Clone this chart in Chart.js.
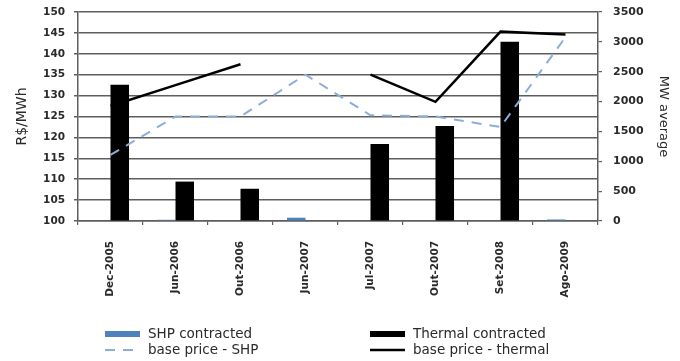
<!DOCTYPE html>
<html>
<head>
<meta charset="utf-8">
<script src="https://cdn.jsdelivr.net/npm/chart.js@4/dist/chart.umd.min.js"></script>
<style>
  html, body { margin: 0; padding: 0; background: #ffffff; }
  #wrap { position: relative; width: 680px; height: 361px; }
</style>
</head>
<body>
<div id="wrap"><canvas id="c" width="680" height="361"></canvas></div>
<script>
// Auction dates
const categories = ['Dec-2005', 'Jun-2006', 'Out-2006', 'Jun-2007', 'Jul-2007', 'Out-2007', 'Set-2008', 'Ago-2009'];

// Contracted energy, MW average (right axis)
const shpContracted = [0, 20, 0, 55, 0, 0, 0, 25];
const thermalContracted = [2280, 660, 540, 0, 1290, 1590, 3000, 0];

// Base prices, R$/MWh (left axis)
const basePriceShp = [115.8, 125, 125, 135, 125.3, 125, 122.5, 144];
const basePriceThermal = [127.5, 132.5, 137.5, null, 135, 128.5, 145.3, 144.6];

// Axis ranges and tick steps
const priceRange = [100, 150, 5];
const energyRange = [0, 3500, 500];

const seriesNames = ['SHP contracted', 'Thermal contracted', 'base price - SHP', 'base price - thermal'];

const FONT = '"DejaVu Sans", sans-serif';
const GRID = '#5e5e5e';
const TEXT = '#2a2a2a';
const SHP_BAR = '#4f81bd';
const SHP_LINE = '#8aaed8';

// Two-column key drawn beneath the plot
const bottomKey = {
  id: 'bottomKey',
  afterDraw(chart) {
    const ctx = chart.ctx;
    const cols = [105, 370];
    const rows = [334, 350];
    const slots = [[0, 0], [1, 0], [0, 1], [1, 1]];
    ctx.save();
    ctx.font = '13.5px ' + FONT;
    ctx.textBaseline = 'middle';
    ctx.textAlign = 'left';
    chart.data.datasets.forEach((ds, i) => {
      const x = cols[slots[i][0]];
      const y = rows[slots[i][1]];
      if (ds.type === 'bar') {
        ctx.fillStyle = ds.backgroundColor;
        ctx.fillRect(x, y - 3, 35, 6);
      } else {
        ctx.strokeStyle = ds.borderColor;
        ctx.lineWidth = ds.borderWidth;
        ctx.setLineDash(ds.borderDash || []);
        ctx.beginPath();
        ctx.moveTo(x, y);
        ctx.lineTo(x + 35, y);
        ctx.stroke();
        ctx.setLineDash([]);
      }
      ctx.fillStyle = TEXT;
      ctx.fillText(ds.label, x + 43, y);
    });
    ctx.restore();
  }
};

// Pin a vertical axis to a fixed width without extra label padding
const fixWidth = (w) => (s) => { s.width = w; s.paddingTop = 0; s.paddingBottom = 0; };

new Chart(document.getElementById('c'), {
  data: {
    labels: categories,
    datasets: [
      {
        type: 'bar', label: seriesNames[0], data: shpContracted, yAxisID: 'y1',
        backgroundColor: SHP_BAR, order: 2,
        categoryPercentage: 0.57, barPercentage: 1.0
      },
      {
        type: 'bar', label: seriesNames[1], data: thermalContracted, yAxisID: 'y1',
        backgroundColor: '#000000', order: 2,
        categoryPercentage: 0.57, barPercentage: 1.0
      },
      {
        type: 'line', label: seriesNames[2], data: basePriceShp, yAxisID: 'y',
        borderColor: SHP_LINE, borderWidth: 2, borderDash: [10, 8],
        pointRadius: 0, tension: 0, fill: false, order: 1
      },
      {
        type: 'line', label: seriesNames[3], data: basePriceThermal, yAxisID: 'y',
        borderColor: '#000000', borderWidth: 2.5, spanGaps: false,
        pointRadius: 0, tension: 0, fill: false, order: 1
      }
    ]
  },
  options: {
    responsive: false,
    animation: false,
    devicePixelRatio: 1,
    layout: { padding: { top: 12, left: 0, right: 0, bottom: 0 } },
    plugins: {
      legend: { display: false },
      tooltip: { enabled: false }
    },
    scales: {
      x: {
        type: 'category',
        offset: true,
        afterFit(s) { s.height = 140; s.paddingLeft = 0; s.paddingRight = 0; },
        grid: { offset: true, drawOnChartArea: false, drawTicks: true, tickLength: 4, color: GRID, lineWidth: 1.2 },
        border: { display: true, color: GRID, width: 1.5 },
        ticks: {
          maxRotation: 90, minRotation: 90, padding: 16, autoSkip: false,
          color: TEXT, font: { family: FONT, size: 10.5, weight: 'bold' }
        }
      },
      y: {
        position: 'left',
        min: priceRange[0], max: priceRange[1],
        afterFit: fixWidth(78),
        grid: { color: GRID, lineWidth: 1.5, drawTicks: true, tickLength: 4 },
        border: { display: true, color: GRID, width: 1.5 },
        ticks: {
          stepSize: priceRange[2], padding: 9,
          color: TEXT, font: { family: FONT, size: 10.5, weight: 'bold' },
          callback: (v) => String(v)
        },
        title: {
          display: true, text: 'R$/MWh', color: TEXT,
          font: { family: FONT, size: 14 }, padding: { top: 14, bottom: 0 }
        }
      },
      y1: {
        position: 'right',
        min: energyRange[0], max: energyRange[1],
        afterFit: fixWidth(82),
        grid: { drawOnChartArea: false, drawTicks: true, tickLength: 4, color: GRID, lineWidth: 1.2 },
        border: { display: true, color: GRID, width: 1.5 },
        ticks: {
          stepSize: energyRange[2], padding: 11,
          color: TEXT, font: { family: FONT, size: 11, weight: 'bold' },
          callback: (v) => String(v)
        },
        title: {
          display: true, text: 'MW average', color: TEXT,
          font: { family: FONT, size: 13 }, padding: { top: 9, bottom: 0 }
        }
      }
    }
  },
  plugins: [bottomKey]
});
</script>
</body>
</html>
